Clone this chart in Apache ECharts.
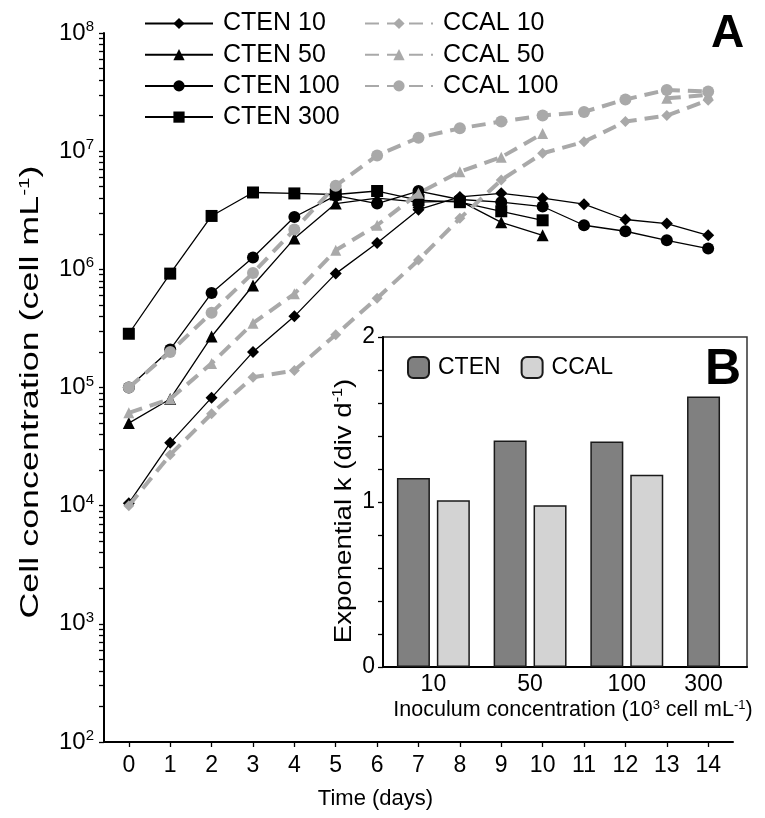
<!DOCTYPE html>
<html><head><meta charset="utf-8">
<script src="https://cdn.jsdelivr.net/npm/echarts@6/dist/echarts.min.js"></script>
<style>html,body{margin:0;padding:0;background:#fff}#c{width:765px;height:818px}</style>
</head><body><div id="c"></div>
<script>
// ---- Panel A data (cell mL^-1) ----
const days = [0,1,2,3,4,5,6,7,8,9,10,11,12,13,14];
const cten10  = [1.05e4, 3.4e4, 8.2e4, 2.0e5, 4.0e5, 9.2e5, 1.67e6, 3.2e6, 4.1e6, 4.4e6, 4.0e6, 3.56e6, 2.64e6, 2.44e6, 1.94e6];
const cten50  = [5.0e4, 8.0e4, 2.7e5, 7.3e5, 1.82e6, 3.6e6, 4.0e6, 3.7e6, 3.8e6, 2.5e6, 1.94e6, null, null, null, null];
const cten100 = [1.0e5, 2.1e5, 6.3e5, 1.26e6, 2.77e6, 4.2e6, 3.6e6, 4.6e6, 3.9e6, 3.7e6, 3.4e6, 2.36e6, 2.1e6, 1.76e6, 1.5e6];
const cten300 = [2.85e5, 9.2e5, 2.83e6, 4.47e6, 4.39e6, 4.3e6, 4.6e6, 3.85e6, 3.7e6, 3.1e6, 2.6e6, null, null, null, null];
const ccal10  = [1.0e4, 2.7e4, 6.0e4, 1.22e5, 1.39e5, 2.8e5, 5.7e5, 1.2e6, 2.7e6, 5.7e6, 9.6e6, 1.2e7, 1.78e7, 2.0e7, 2.7e7];
const ccal50  = [6.1e4, 8.0e4, 1.6e5, 3.5e5, 6.2e5, 1.45e6, 2.36e6, 4.4e6, 6.7e6, 8.9e6, 1.41e7, null, null, 2.8e7, 3.0e7];
const ccal100 = [1.0e5, 2.0e5, 4.3e5, 9.3e5, 2.17e6, 5.1e6, 9.2e6, 1.3e7, 1.56e7, 1.78e7, 2.0e7, 2.15e7, 2.74e7, 3.3e7, 3.2e7];
const yExponents = [2,3,4,5,6,7,8];

// ---- Panel B data (div d^-1) ----
const inocLabels = ['10','50','100','300'];
const kCTEN = [1.145, 1.373, 1.367, 1.64];
const kCCAL = [1.01, 0.98, 1.165, null];

const FF = "'Liberation Sans', Arial, sans-serif";
const FN = "'Liberation Sans Narrow', 'Arial Narrow', 'Liberation Sans', Arial, sans-serif";
const BLACK = '#000';
const GRAY = '#a9a9a9';

const majorTicks = yExponents.map(e => Math.pow(10, e));
const allTicks = [];
yExponents.forEach((e, k) => {
  allTicks.push(Math.pow(10, e));
  if (k < yExponents.length - 1) for (let m = 2; m <= 9; m++) allTicks.push(m * Math.pow(10, e));
});

function pts(arr) { return days.map((d, i) => [d, arr[i]]); }
function blackLine(name, arr, symbol, size) {
  return { name, type: 'line', xAxisIndex: 0, yAxisIndex: 0, data: pts(arr), symbol, symbolSize: size,
    showAllSymbol: true, connectNulls: false, z: 2,
    lineStyle: { color: BLACK, width: 1.3 }, itemStyle: { color: BLACK } };
}
function grayLine(name, arr, symbol, size) {
  return { name, type: 'line', xAxisIndex: 0, yAxisIndex: 0, data: pts(arr), symbol, symbolSize: size,
    showAllSymbol: true, connectNulls: false, z: 3,
    lineStyle: { color: GRAY, width: 4, type: [14, 8] }, itemStyle: { color: GRAY } };
}

const insetLeft = 383, insetRight = 747, insetTop = 337, insetBottom = 667;
const xMinB = 0.479, xMaxB = 4.243;
const barW = 33, barGapPct = 21;
const bandPx = (insetRight - insetLeft) / (xMaxB - xMinB);
const shiftVal = ((barW + barW * barGapPct / 100) / 2) / bandPx;
const labelPos = inocLabels.map((l, i) => kCCAL[i] == null ? i + 1 - shiftVal : i + 1);

const chart = echarts.init(document.getElementById('c'));
chart.setOption({
  backgroundColor: '#fff',
  animation: false,
  textStyle: { fontFamily: FF, color: BLACK },
  title: [
    { text: 'A', left: 706, top: 6, textStyle: { fontSize: 46, fontWeight: 'bold', fontFamily: FF, color: BLACK } },
    { text: 'B', left: 700, top: 340, z: 9, textStyle: { fontSize: 50, fontWeight: 'bold', fontFamily: FF, color: BLACK } }
  ],
  graphic: [
    { type: 'text', x: 31, y: 392, rotation: Math.PI / 2, scaleX: 1.38, z: 10,
      style: { text: '{a|Cell concentration (cell mL}{s|-1}{a|)}', align: 'center', verticalAlign: 'middle',
        rich: { a: { fontSize: 26, fontFamily: FF, fill: BLACK }, s: { fontSize: 15, fontFamily: FF, fill: BLACK, padding: [0,0,13,0] } } } },
    { type: 'text', x: 344, y: 511, rotation: Math.PI / 2, scaleX: 1.15, z: 10,
      style: { text: '{a|Exponential k (div d}{s|-1}{a|)}', align: 'center', verticalAlign: 'middle',
        rich: { a: { fontSize: 24, fontFamily: FF, fill: BLACK }, s: { fontSize: 14, fontFamily: FF, fill: BLACK, padding: [0,0,12,0] } } } }
  ],
  legend: [
    { data: ['CTEN 10','CTEN 50','CTEN 100','CTEN 300'], orient: 'vertical', left: 139, top: 6,
      itemWidth: 68, itemHeight: 14, itemGap: 6.2,
      textStyle: { fontSize: 25, lineHeight: 23, fontFamily: FF, color: BLACK, padding: [0,0,0,5] } },
    { data: ['CCAL 10','CCAL 50','CCAL 100'], orient: 'vertical', left: 359, top: 6,
      itemWidth: 68, itemHeight: 14, itemGap: 6.2,
      textStyle: { fontSize: 25, lineHeight: 23, fontFamily: FF, color: BLACK, padding: [0,0,0,5] } },
    { data: ['CTEN','CCAL'], orient: 'horizontal', left: 402, top: 351, z: 9,
      itemWidth: 21, itemHeight: 21, itemGap: 20,
      textStyle: { fontSize: 23, fontFamily: FF, color: BLACK, padding: [0,0,0,4] } }
  ],
  grid: [
    { left: 104, right: 32, top: 33, bottom: 76, containLabel: false },
    { left: insetLeft, right: 765 - insetRight, top: insetTop, bottom: 818 - insetBottom, show: true,
      backgroundColor: '#fff', borderColor: '#333', borderWidth: 1.5, z: 5 }
  ],
  xAxis: [
    { type: 'value', gridIndex: 0, min: -0.6, max: 14.6,
      axisLine: { onZero: false, lineStyle: { color: BLACK, width: 2 } },
      axisTick: { show: true, inside: false, length: 5, customValues: days, lineStyle: { color: BLACK, width: 1.3 } },
      axisLabel: { customValues: days, fontSize: 23, fontFamily: FN, color: BLACK, margin: 12 },
      splitLine: { show: false },
      name: 'Time (days)', nameLocation: 'middle', nameGap: 46,
      nameTextStyle: { fontSize: 22, fontFamily: FF, color: BLACK, padding: [0, 86, 0, 0] } },
    { type: 'value', gridIndex: 1, min: xMinB, max: xMaxB, z: 6,
      axisLine: { onZero: false, lineStyle: { color: BLACK, width: 2 } },
      axisTick: { show: false },
      axisLabel: { customValues: labelPos, fontSize: 23, fontFamily: FN, color: BLACK, margin: 6,
        formatter: v => { let best = 0; labelPos.forEach((p, i) => { if (Math.abs(p - v) < Math.abs(labelPos[best] - v)) best = i; }); return inocLabels[best]; } },
      splitLine: { show: false },
      name: '{a|Inoculum concentration (10}{s|3}{a| cell mL}{s|-1}{a|)}', nameLocation: 'middle', nameGap: 32,
      nameTextStyle: { padding: [0, 0, 0, 16], rich: { a: { fontSize: 21.5, fontFamily: FN, color: BLACK }, s: { fontSize: 13, fontFamily: FN, color: BLACK, padding: [0,0,10,0] } } } }
  ],
  yAxis: [
    { type: 'log', logBase: 10, gridIndex: 0, min: 100, max: 1e8,
      axisLine: { show: true, onZero: false, lineStyle: { color: BLACK, width: 2 } },
      axisTick: { show: true, inside: false, length: 5, customValues: allTicks, lineStyle: { color: BLACK, width: 1.3 } },
      axisLabel: { customValues: majorTicks, margin: 10,
        formatter: v => '{b|10}{s|' + Math.round(Math.log10(v)) + '}',
        rich: { b: { fontSize: 24, fontFamily: FF, color: BLACK }, s: { fontSize: 15, fontFamily: FF, color: BLACK, padding: [0,0,12,0] } } },
      splitLine: { show: false } },
    { type: 'value', gridIndex: 1, min: 0, max: 2, interval: 0.2, z: 6,
      axisLine: { show: true, onZero: false, lineStyle: { color: BLACK, width: 2 } },
      axisTick: { show: true, inside: false, length: 5, lineStyle: { color: BLACK, width: 1.3 } },
      axisLabel: { fontSize: 23, fontFamily: FN, color: BLACK, margin: 8,
        formatter: v => Math.abs(v - Math.round(v)) < 1e-6 ? String(Math.round(v)) : '' },
      splitLine: { show: false } }
  ],
  series: [
    blackLine('CTEN 10', cten10, 'diamond', 12),
    blackLine('CTEN 50', cten50, 'triangle', 12),
    blackLine('CTEN 100', cten100, 'circle', 12),
    blackLine('CTEN 300', cten300, 'rect', 12),
    grayLine('CCAL 10', ccal10, 'diamond', 11),
    grayLine('CCAL 50', ccal50, 'triangle', 11),
    grayLine('CCAL 100', ccal100, 'circle', 12),
    { name: 'CTEN', type: 'bar', xAxisIndex: 1, yAxisIndex: 1, z: 7, barWidth: barW, barGap: barGapPct + '%',
      data: kCTEN.map((v, i) => [i + 1, v]),
      itemStyle: { color: '#808080', borderColor: '#1a1a1a', borderWidth: 1.5 } },
    { name: 'CCAL', type: 'bar', xAxisIndex: 1, yAxisIndex: 1, z: 7, barWidth: barW, barGap: barGapPct + '%',
      data: kCCAL.map((v, i) => [i + 1, v]),
      itemStyle: { color: '#d3d3d3', borderColor: '#1a1a1a', borderWidth: 1.5 } }
  ]
});
</script></body></html>
